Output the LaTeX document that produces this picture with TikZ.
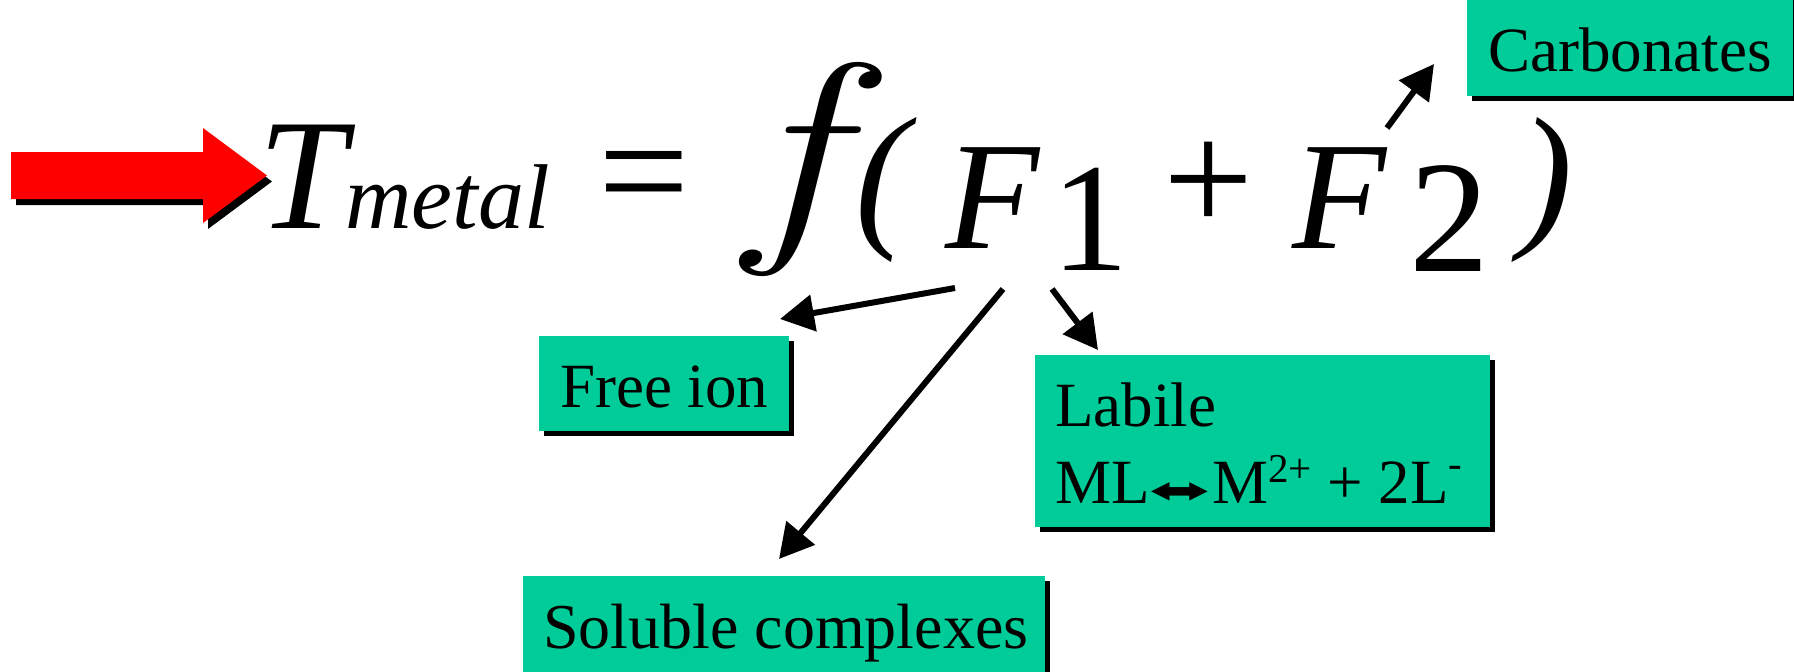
\documentclass[tikz,border=0pt]{standalone}
\usepackage{fontspec}
\setmainfont{Liberation Serif}
\newfontfamily\djv{DejaVu Sans}
\newfontfamily\lmr{Latin Modern Roman}
\usetikzlibrary{arrows.meta,backgrounds}
\definecolor{boxgreen}{RGB}{0,204,153}
\definecolor{arrowred}{RGB}{255,0,0}
\newcommand{\fsz}[1]{\fontsize{#1}{#1}\selectfont}
\begin{document}
\begin{tikzpicture}[x=1pt,y=-1pt,
  eqit/.style={inner sep=0pt, anchor=base west, font=\itshape\fsz{#1}},
  equp/.style={inner sep=0pt, anchor=center, font=\fsz{#1}},
  box/.style={fill=boxgreen, inner sep=0pt, anchor=north west},
  lbl/.style={inner sep=0pt, anchor=base west, font=\fsz{63}},
  conn/.style={line width=6pt, -{Triangle[length=34pt,width=36pt]}},
]
\useasboundingbox (0,0) rectangle (1794,672);

% red arrow with shadow
\fill[black] (16,158) -- (208,158) -- (208,134) -- (272,181.5) -- (208,229) -- (208,205) -- (16,205) -- cycle;
\fill[arrowred] (11,152) -- (203,152) -- (203,128) -- (267,175.5) -- (203,223) -- (203,199) -- (11,199) -- cycle;

% equation
\node[eqit=158] (T) at (258,228) {T};
\node[eqit=92] (metal) at (345,228) {metal};
\node[equp=162] (eq) at (644.5,188.5) {=};
\node[inner sep=0pt, anchor=base, font=\lmr\itshape\fsz{236}] (f) at (793,228) {\scalebox{1.28}[1]{f}};
\node[equp=160,font=\itshape\fsz{160}] (lp) at (882,190) {(};
\node[eqit=154] (F1) at (945,248) {F};
\node[equp=155] (one) at (1090,219.5) {1};
\node[equp=160] (plus) at (1209,187) {+};
\node[eqit=154] (F2) at (1292,248) {F};
\node[equp=160] (two) at (1449,219) {2};
\node[equp=160,font=\itshape\fsz{160}] (rp) at (1546,190.5) {)};

% boxes
\node[box, minimum width=326, minimum height=106] (carb) at (1467,-10) {};
\node[box, minimum width=250, minimum height=95] (free) at (539,336) {};
\node[box, minimum width=455, minimum height=172] (labile) at (1035,355) {};
\node[box, minimum width=522, minimum height=120] (sol) at (523,576) {};
\begin{scope}[on background layer]
  \foreach \b in {carb,free,labile,sol}
    \fill[black] ([shift={(5,5)}]\b.north west) rectangle ([shift={(5,5)}]\b.south east);
\end{scope}

\node[lbl] (carbt) at (1488,71) {Carbonates};
\node[lbl] (freet) at (560,407) {Free ion};
\node[lbl] (labt1) at (1055,426) {Labile};
\node[lbl] (labt2) at (1055,503) {ML\scalebox{1.2}[0.6]{\djv\fsz{62}⬌}M\raisebox{0.33em}{\fsz{41}2+} + 2L\raisebox{0.4em}{\fsz{41}-}};
\node[lbl, font=\fsz{64}] (solt) at (543,648) {Soluble complexes};

% connectors
\coordinate (s1) at (955,288);  \coordinate (e1) at (780,319);
\coordinate (s2) at (1003,289); \coordinate (e2) at (779,559);
\coordinate (s3) at (1052,289); \coordinate (e3) at (1098,350);
\coordinate (s4) at (1387,128); \coordinate (e4) at (1434,64);
\draw[conn] (s1) -- (e1);
\draw[conn] (s2) -- (e2);
\draw[conn] (s3) -- (e3);
\draw[conn] (s4) -- (e4);
\end{tikzpicture}
\end{document}
